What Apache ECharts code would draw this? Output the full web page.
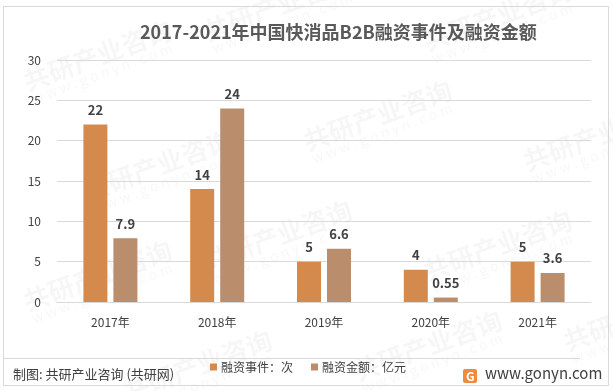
<!DOCTYPE html>
<html><head><meta charset="utf-8">
<script src="https://cdn.jsdelivr.net/npm/echarts@6/dist/echarts.min.js"></script>
<style>html,body{margin:0;padding:0;background:#fff}#c{width:613px;height:391px}</style>
</head><body><div id="c"></div>
<script>
var categories = ['2017年','2018年','2019年','2020年','2021年'];
var events = [22, 14, 5, 4, 5];
var amounts = [7.9, 24, 6.6, 0.55, 3.6];
var yTicks = [0, 30, 5];
var seriesNames = ['融资事件：次','融资金额：亿元'];

var chart = echarts.init(document.getElementById('c'), null, {renderer:'canvas'});
var font = '"Microsoft YaHei","Noto Sans CJK SC",sans-serif';
var wm = [];
var wmPos = [[20,70],[200,20],[420,30],[80,180],[300,130],[520,150],[20,290],[200,250],[420,260],[120,380],[350,360],[560,330]];
wmPos.forEach(function(p){
  wm.push({type:'text', x:p[0], y:p[1], rotation:0.35, z:-1, silent:true,
    style:{text:'共研产业咨询', font:'bold 26px '+font, fill:'rgba(0,0,0,0.035)'}});
  wm.push({type:'text', x:p[0]+10, y:p[1]+22, rotation:0.35, z:-1, silent:true,
    style:{text:'w w w . g o n y n . c o m', font:'14px '+font, fill:'rgba(0,0,0,0.035)'}});
});
chart.setOption({
  animation:false,
  title:{text:'2017-2021年中国快消品B2B融资事件及融资金额', left:135, top:18,
    textStyle:{fontSize:18, fontWeight:'bold', color:'#595959', fontFamily:font}},
  grid:{left:57, right:22, top:60, bottom:89},
  legend:{top:361, left:210, itemWidth:7, itemHeight:7, itemGap:18, icon:'rect', padding:0,
    textStyle:{fontSize:12, color:'#404040', fontFamily:font, padding:[0,0,0,-1]}},
  xAxis:{type:'category', data:categories,
    axisLine:{lineStyle:{color:'#D9D9D9'}}, axisTick:{show:false},
    axisLabel:{fontSize:12, color:'#404040', margin:14, fontFamily:font}},
  yAxis:{type:'value', min:yTicks[0], max:yTicks[1], interval:yTicks[2],
    axisLine:{show:false}, axisTick:{show:false},
    splitLine:{lineStyle:{color:'#D9D9D9'}},
    axisLabel:{fontSize:12, color:'#404040', margin:16, fontFamily:font}},
  series:[
    {name:seriesNames[0], type:'bar', data:events, barWidth:24, barGap:'25%',
      itemStyle:{color:'#D48A4C'},
      label:{show:true, position:'top', distance:8, fontSize:13, fontWeight:'bold', color:'#404040', fontFamily:font}},
    {name:seriesNames[1], type:'bar', data:amounts, barWidth:24,
      itemStyle:{color:'#BA8D6C'},
      label:{show:true, position:'top', distance:8, fontSize:13, fontWeight:'bold', color:'#404040', fontFamily:font}}
  ],
  graphic:wm.concat([
    {type:'rect', shape:{x:3.5,y:6.5,width:605,height:379}, style:{fill:'none', stroke:'#D9D9D9', lineWidth:1}, silent:true},
    {type:'line', shape:{x1:4,y1:358.5,x2:580,y2:358.5}, style:{stroke:'#D9D9D9', lineWidth:1}, silent:true},
    {type:'text', x:13, y:368, style:{text:'制图: 共研产业咨询 (共研网)', font:'13px '+font, fill:'#404040'}},
    {type:'rect', shape:{x:463,y:369,width:14,height:14, r:2}, style:{fill:'#F08A3C'}},
    {type:'text', x:466, y:370, style:{text:'G', font:'bold 12px '+font, fill:'#fff'}},
    {type:'text', x:485, y:366, style:{text:'www.gonyn.com', font:'15px '+font, fill:'#404040'}}
  ])
});
</script></body></html>
